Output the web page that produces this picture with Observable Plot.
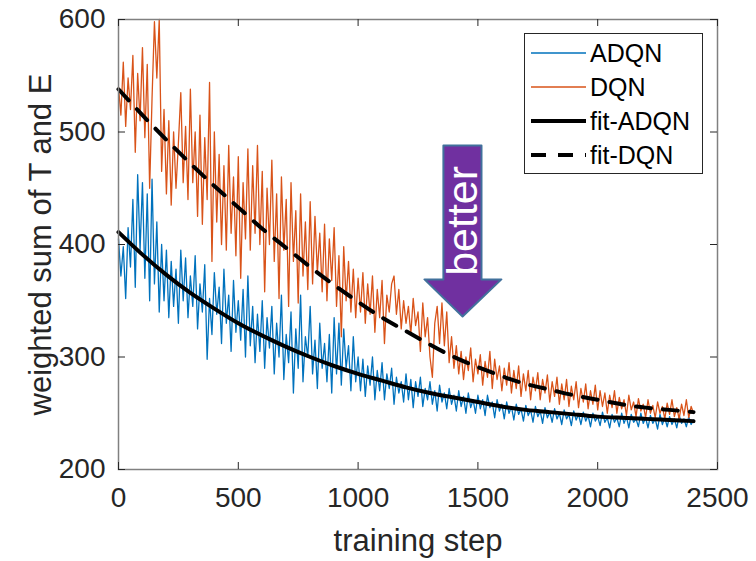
<!DOCTYPE html>
<html>
<head>
<meta charset="utf-8">
<script src="https://cdn.jsdelivr.net/npm/d3@7"></script>
<script src="https://cdn.jsdelivr.net/npm/@observablehq/plot@0.6"></script>
<style>
  html, body { margin: 0; padding: 0; background: white; }
  #chart { width: 756px; height: 561px; }
</style>
</head>
<body>
<div id="chart"></div>
<script>
// ---------------- data ----------------
const xTicks = [0, 500, 1000, 1500, 2000, 2500];
const yTicks = [200, 300, 400, 500, 600];
const xLabel = "training step";
const yLabel = "weighted sum of T and E";
const seriesNames = ["ADQN", "DQN", "fit-ADQN", "fit-DQN"];
const seriesColors = ["#0072BD", "#D95319", "#000000", "#000000"];

// raw series, sampled every 10 training steps (0 .. 2400)
const adqn = [
  405,372,398,352,415,380,440,362,462,395,455,
  370,445,350,458,365,420,340,400,350,395,
  335,385,345,378,330,395,350,388,335,372,
  345,390,325,365,340,382,298,352,320,375,
  338,362,312,378,330,355,305,368,322,350,
  315,360,300,372,310,345,295,338,305,350,
  290,335,308,345,285,330,300,355,280,320,
  295,340,268,325,290,355,278,318,300,345,
  285,315,272,330,290,312,278,320,268,335,
  285,330,275,325,290,310,270,318,278,300,
  270,298,265,292,275,300,262,288,270,295,
  262,285,272,290,258,282,268,278,260,285,
  262,280,255,278,265,282,256,272,262,278,
  258,270,252,275,260,268,254,272,258,266,
  252,270,256,265,250,268,255,262,250,266,
  254,262,248,266,255,260,246,262,252,258,
  245,260,250,256,244,258,249,254,243,257,
  248,253,242,256,247,252,241,255,246,251,
  242,254,245,250,240,253,245,249,239,252,
  244,249,240,251,243,248,238,250,243,247,
  239,251,242,246,237,249,242,246,238,250,
  241,247,237,249,242,245,238,250,241,246,
  237,248,241,245,236,249,240,246,238,247,
  240,245,237,248,241,245,238,247,240,244
];
const dqn = [
  540,515,562,505,548,520,568,482,552,510,575,
  495,560,450,530,598,548,600,465,520,445,
  510,435,500,450,490,535,455,505,440,538,
  455,500,425,515,418,495,440,544,385,500,
  420,480,400,470,395,488,410,460,390,478,
  370,455,405,485,395,470,410,488,400,465,
  358,450,400,475,385,445,352,460,395,440,
  345,455,385,430,348,445,372,420,360,438,
  365,425,375,410,358,418,350,405,368,415,
  345,390,318,398,350,385,340,378,335,370,
  340,375,330,365,338,372,322,360,335,368,
  312,355,340,365,372,338,360,325,350,330,
  345,320,352,328,340,305,348,318,335,300,
  282,330,345,312,348,310,340,295,318,290,
  310,285,305,280,300,288,308,278,298,285,
  302,275,296,282,305,272,298,280,292,270,
  290,275,295,268,288,272,292,265,285,270,
  288,262,282,270,286,262,280,268,284,260,
  278,265,282,258,276,262,280,256,274,262,
  278,255,272,260,276,254,270,258,275,253,
  270,256,268,250,266,255,270,250,264,254,
  262,248,266,253,260,247,263,252,258,246,
  262,250,257,246,260,250,256,245,259,249,
  262,247,255,245,258,248,262,246,256,250
];
// fitted curves, read every 100 steps (0 .. 2400)
const fitAdqn = [411,391,373,357,343,330,319,309,300,292,285,279,273,268,264,260,256,253,251,249,247,246,245,244,243];
const fitDqn  = [538,515,493,472,452,433,414,397,380,364,349,335,323,311,300,291,283,276,271,266,262,258,255,253,251];

// "better" arrow annotation (data coordinates)
const arrowX = [1356, 1515, 1515, 1598, 1436, 1277, 1356];
const arrowY = [488, 488, 369, 369, 336, 369, 369];
const arrowText = "better";
const arrowTextX = 1440;
const arrowTextY = 421;

// ---------------- build ----------------
const steps = d3.range(0, 2401, 10);
const fitSteps = d3.range(0, 2401, 100);
const adqnData = adqn.map((v, i) => ({step: steps[i], value: v}));
const dqnData = dqn.map((v, i) => ({step: steps[i], value: v}));
const fitAData = fitAdqn.map((v, i) => ({step: fitSteps[i], value: v}));
const fitDData = fitDqn.map((v, i) => ({step: fitSteps[i], value: v}));
const arrowData = arrowX.map((x, i) => ({x, y: arrowY[i]}));

const W = 756, H = 561, ML = 118, MR = 39, MT = 19, MB = 92;
const innerW = W - ML - MR, innerH = H - MT - MB;
const tickLen = 7;
const font = "'Liberation Sans', Arial, Helvetica, sans-serif";

const chart = Plot.plot({
  width: W, height: H,
  marginLeft: ML, marginRight: MR, marginTop: MT, marginBottom: MB,
  style: {fontFamily: font, background: "white", color: "#262626"},
  x: {domain: [0, 2500], ticks: xTicks},
  y: {domain: [200, 600], ticks: yTicks},
  marks: [
    Plot.line(adqnData, {x: "step", y: "value", stroke: seriesColors[0], strokeWidth: 1.3}),
    Plot.line(dqnData, {x: "step", y: "value", stroke: seriesColors[1], strokeWidth: 1.3}),
    Plot.line(fitAData, {x: "step", y: "value", stroke: seriesColors[2], strokeWidth: 4, curve: "natural"}),
    Plot.line(fitDData, {x: "step", y: "value", stroke: seriesColors[3], strokeWidth: 4, curve: "natural", strokeDasharray: "15,12"}),
    Plot.line(arrowData, {x: "x", y: "y", curve: "linear-closed", fill: "#7030A0", stroke: "#41719C", strokeWidth: 2}),
    Plot.text([arrowText], {x: () => arrowTextX, y: () => arrowTextY, rotate: -90, fill: "white", fontSize: 43, lineAnchor: "middle", textAnchor: "middle"}),
    Plot.frame({stroke: "#808080", strokeWidth: 1.5}),
    // inward ticks on all four sides
    Plot.tickX(xTicks, {x: d => d, insetTop: innerH - tickLen, stroke: "#262626", strokeWidth: 1}),
    Plot.tickX(xTicks, {x: d => d, insetBottom: innerH - tickLen, stroke: "#262626", strokeWidth: 1}),
    Plot.tickY(yTicks, {y: d => d, insetRight: innerW - tickLen, stroke: "#262626", strokeWidth: 1}),
    Plot.tickY(yTicks, {y: d => d, insetLeft: innerW - tickLen, stroke: "#262626", strokeWidth: 1}),
    Plot.axisX({ticks: xTicks, tickSize: 0, tickPadding: 18, fontSize: 28, label: null, tickFormat: d => String(d)}),
    Plot.axisY({ticks: yTicks, tickSize: 0, tickPadding: 13, fontSize: 28, label: null, tickFormat: d => String(d)}),
    Plot.text([xLabel], {frameAnchor: "bottom", dy: 72, fontSize: 31, lineAnchor: "middle", textAnchor: "middle", fill: "#262626"}),
    Plot.text([yLabel], {frameAnchor: "left", dx: -77, rotate: -90, fontSize: 31, lineAnchor: "middle", textAnchor: "middle", fill: "#262626"})
  ]
});

// legend (inside the axes, top-right)
const svg = d3.select(chart);
const lg = svg.append("g").attr("font-family", font).attr("font-size", 25).attr("text-anchor", "start");
lg.append("rect").attr("x", 524.5).attr("y", 33.5).attr("width", 178).attr("height", 140)
  .attr("fill", "white").attr("stroke", "#262626").attr("stroke-width", 1);
seriesNames.forEach((name, i) => {
  const y = 53 + i * 34;
  const ln = lg.append("line").attr("x1", 531).attr("x2", 586).attr("y1", y).attr("y2", y)
    .attr("stroke", seriesColors[i]).attr("stroke-width", i < 2 ? 1.5 : 4);
  if (i === 3) ln.attr("stroke-dasharray", "15,12");
  lg.append("text").attr("x", 590).attr("y", y).attr("dy", "0.35em")
    .attr("text-anchor", "start").attr("fill", "#000").text(name);
});

document.getElementById("chart").appendChild(chart);
</script>
</body>
</html>
